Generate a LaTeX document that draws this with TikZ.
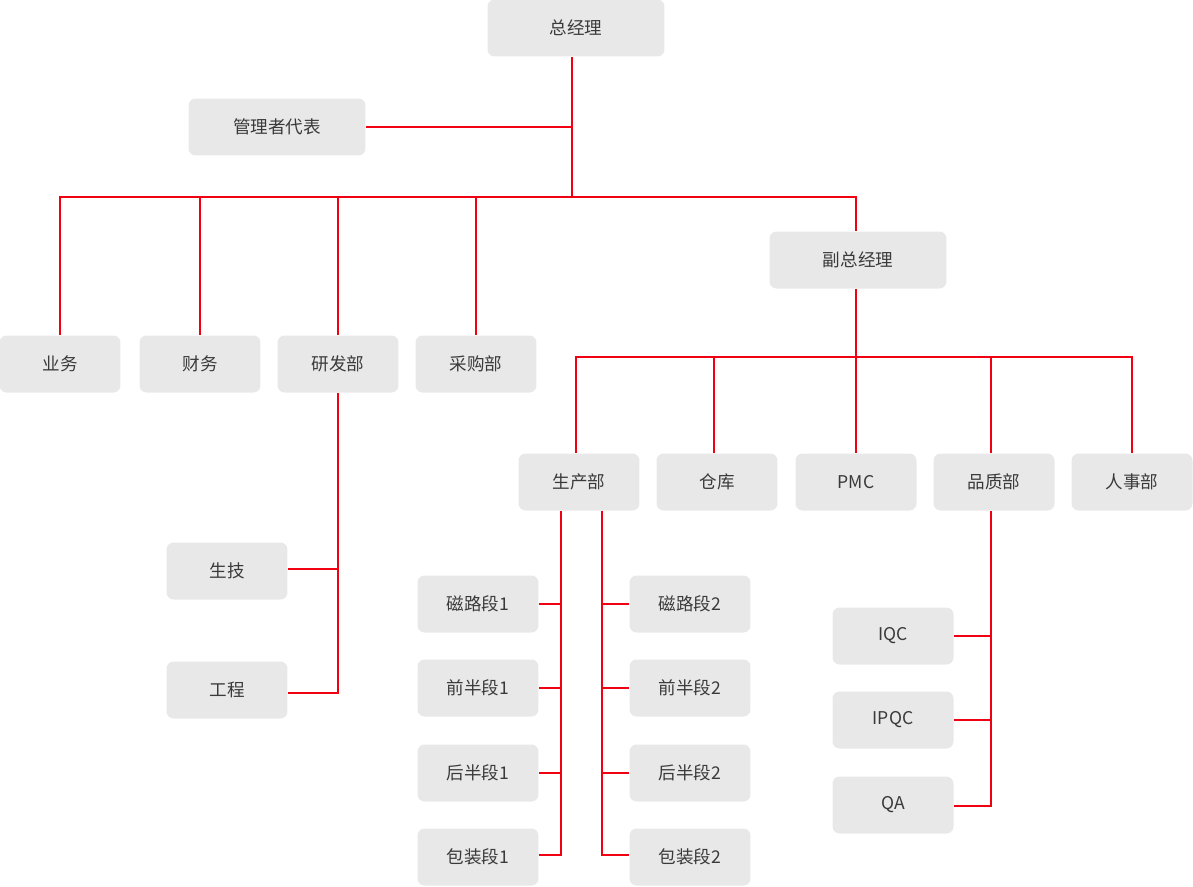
\documentclass[tikz,border=0pt]{standalone}
\usepackage{fontspec}
\setmainfont{Noto Sans CJK SC}
\usetikzlibrary{positioning,calc}
\definecolor{boxgray}{HTML}{E8E8E8}
\definecolor{txtgray}{HTML}{3A3A3A}
\definecolor{linered}{HTML}{F00010}
\tikzset{
  unit/.style={fill=boxgray,rounded corners=4pt,minimum width=2.42cm,minimum height=1.14cm,
    inner sep=0pt,text=txtgray,font=\fontsize{10}{12}\selectfont},
  wide/.style={unit,minimum width=3.54cm},
  link/.style={linered,line width=1.2pt}
}
\begin{document}
\begin{tikzpicture}[x=0.02cm,y=-0.02cm]
\useasboundingbox (0,0) rectangle (1193,886);
% top level
\node[wide] (gm) at (576,28) {总经理};
\node[wide] (rep) at (277,127) {管理者代表};
\node[wide] (vgm) at (858,260) {副总经理};
\foreach \nm/\x/\txt in {biz/60/业务,fin/200/财务,rd/338/研发部,buy/476/采购部}
  \node[unit] (\nm) at (\x,364) {\txt};
\foreach \nm/\x/\txt in {prod/579/生产部,store/717/仓库,pmc/856/PMC,qual/994/品质部,hr/1132/人事部}
  \node[unit] (\nm) at (\x,482) {\txt};
% sub units
\node[unit] (tech) at (227,571) {生技};
\node[unit] (eng) at (227,690) {工程};
\foreach \i/\y/\txt in {1/604/磁路段,2/688/前半段,3/773/后半段,4/857/包装段}{
  \node[unit] (pa\i) at (478,\y) {\txt1};
  \node[unit] (pb\i) at (690,\y) {\txt2};
}
\node[unit] (iqc) at (893,636) {IQC};
\node[unit] (ipqc) at (893,720) {IPQC};
\node[unit] (qa) at (893,805) {QA};
% connectors
\coordinate (j0) at (572,197);
\coordinate (j1) at (856,357);
\draw[link] (gm.south -| j0) -- (j0);
\draw[link] (rep.east) -- (rep.east -| j0);
\draw[link] (biz.north) |- (j0) -| (vgm.north -| 856,0);
\foreach \nm in {fin,rd,buy} \draw[link] (\nm.north) -- (\nm.north |- j0);
\draw[link] (vgm.south -| j1) -- (j1);
\draw[link] (576,482 |- prod.north) |- (j1) -| (hr.north);
\draw[link] (prod.north -| 576,0) -- (576,357);
\foreach \nm/\x in {store/714,pmc/856,qual/991} \draw[link] (\nm.north -| \x,0) -- (\x,357);
\draw[link] (rd.south) -- (338,693) -- (eng.east |- 0,693);
\draw[link] (tech.east |- 0,569) -- (338,569);
\draw[link] (prod.south -| 561,0) -- (561,855) -- (pa4.east |- 0,855);
\draw[link] (prod.south -| 602,0) -- (602,855) -- (pb4.west |- 0,855);
\foreach \i in {1,2,3} {
  \draw[link] (pa\i.east) -- (pa\i.east -| 561,0);
  \draw[link] (pb\i.west) -- (pb\i.west -| 602,0);
}
\draw[link] (qual.south -| 991,0) -- (991,806) -- (qa.east |- 0,806);
\draw[link] (iqc.east) -- (iqc.east -| 991,0);
\draw[link] (ipqc.east) -- (ipqc.east -| 991,0);
\end{tikzpicture}
\end{document}
